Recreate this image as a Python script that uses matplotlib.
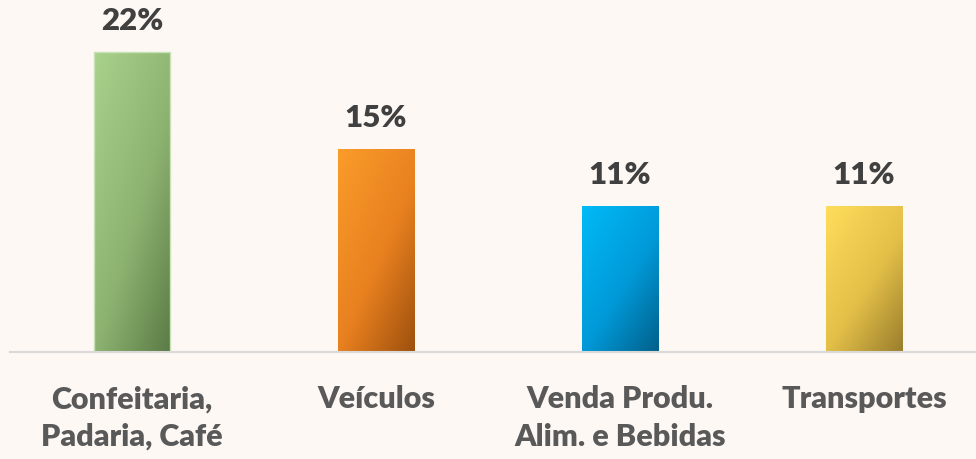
import numpy as np
import matplotlib
matplotlib.use("Agg")
import matplotlib.pyplot as plt
from matplotlib.colors import LinearSegmentedColormap

categories = ["Confeitaria,\nPadaria, Café", "Veículos", "Venda Produ.\nAlim. e Bebidas", "Transportes"]
values = [22.0, 14.9, 10.7, 10.7]
labels = ["22%", "15%", "11%", "11%"]
grad_colors = [
    ["#A9D28D", "#8DB371", "#5B7B45"],
    ["#FA9C2A", "#E8801F", "#9E500E"],
    ["#00BAF6", "#0099D8", "#00608A"],
    ["#FFDD5B", "#E3BF48", "#9A7E2D"],
]
edge_colors = ["#C8E2B6", "none", "none", "none"]

BG = "#FDF8F4"
plt.rcParams['font.family'] = ['Lato', 'DejaVu Sans']

fig = plt.figure(figsize=(9.76, 4.59), dpi=100, facecolor=BG)
ax = fig.add_axes([10/976, 107/459, 966/976, 352/459], facecolor=BG)

x = np.arange(len(categories))
bw = 0.315
bars = ax.bar(x, values, width=bw, color="none", edgecolor="none", zorder=2)

uu, vv = np.meshgrid(np.linspace(0, 1, 60), np.linspace(0, 1, 200))
t = 0.45 * uu + 0.55 * vv
for b, cols, ec in zip(bars, grad_colors, edge_colors):
    cmap = LinearSegmentedColormap.from_list("g", [(0, cols[0]), (0.55, cols[1]), (1, cols[2])])
    x0 = b.get_x(); x1 = x0 + b.get_width(); h = b.get_height()
    im = ax.imshow(cmap(t), extent=[x0, x1, 0, h], origin="upper", aspect="auto",
                   zorder=2, interpolation="bilinear")
    im.set_clip_path(b)
    if ec != "none":
        ax.bar(b.get_x() + b.get_width()/2, h, width=b.get_width(), color="none",
               edgecolor=ec, linewidth=1.0, zorder=3)

for xi, v, lab in zip(x, values, labels):
    ax.annotate(lab, (xi, v), xytext=(0, 22), textcoords="offset points",
                ha="center", va="center", fontsize=22.5, fontweight="heavy", color="#404040")

ax.set_xlim(-0.5, -0.5 + 966/244)
ax.set_ylim(0, 352/13.64)
ax.set_xticks(x)
ax.set_xticklabels(categories, fontsize=22, fontweight="heavy", color="#595959", linespacing=1.42)
ax.tick_params(axis="x", length=0, pad=24)
ax.set_yticks([])
for s in ["top", "left", "right"]:
    ax.spines[s].set_visible(False)
ax.spines["bottom"].set_color("#D9D9D9")
ax.spines["bottom"].set_linewidth(1.5)
ax.spines["bottom"].set_zorder(4)

fig.savefig("out.png", dpi=100, facecolor=BG)
